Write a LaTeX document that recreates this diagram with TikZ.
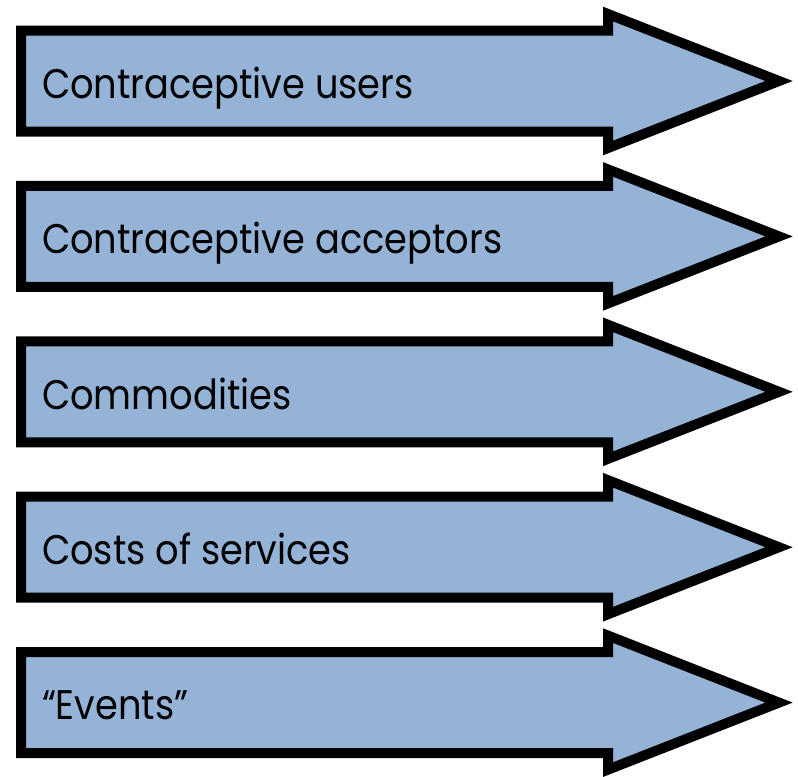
\documentclass[tikz,border=0pt]{standalone}
\usepackage{fontspec}
\setmainfont[FakeStretch=0.89]{Poppins}
\usepackage{tikz}

\definecolor{arrowblue}{HTML}{95B3D7}

\begin{document}
\begin{tikzpicture}[x=0.75pt, y=-0.75pt, line width=7.5pt, line join=miter,
    arrowbox/.style={draw=black, fill=arrowblue},
    label/.style={anchor=base west, inner sep=0pt, font=\fontsize{31}{36}\selectfont}]
    \useasboundingbox (0, 0) rectangle (798, 776);

    % draw the five arrows, top to bottom
    \filldraw[arrowbox] (21, 30.5) -- (608, 30.5) -- (608, 14) -- (779, 81)
      -- (608, 148) -- (608, 131.5) -- (21, 131.5) -- cycle;
    \filldraw[arrowbox] (21, 185.9) -- (608, 185.9) -- (608, 169.4) -- (779, 236.4)
      -- (608, 303.4) -- (608, 286.9) -- (21, 286.9) -- cycle;
    \filldraw[arrowbox] (21, 341.3) -- (608, 341.3) -- (608, 324.8) -- (779, 391.8)
      -- (608, 458.8) -- (608, 442.3) -- (21, 442.3) -- cycle;
    \filldraw[arrowbox] (21, 496.7) -- (608, 496.7) -- (608, 480.2) -- (779, 547.2)
      -- (608, 614.2) -- (608, 597.7) -- (21, 597.7) -- cycle;
    \filldraw[arrowbox] (21, 652.1) -- (608, 652.1) -- (608, 635.6) -- (779, 702.6)
      -- (608, 769.6) -- (608, 753.1) -- (21, 753.1) -- cycle;

    % labels
    \node[label] (users) at (37, 98.3) {Contraceptive users};
    \node[label] (acceptors) at (37, 253.7) {Contraceptive acceptors};
    \node[label] (commodities) at (37, 409.1) {Commodities};
    \node[label] (costs) at (37, 564.5) {Costs of services};
    \node[label] (events) at (37, 719.9) {“Events”};
\end{tikzpicture}
\end{document}
